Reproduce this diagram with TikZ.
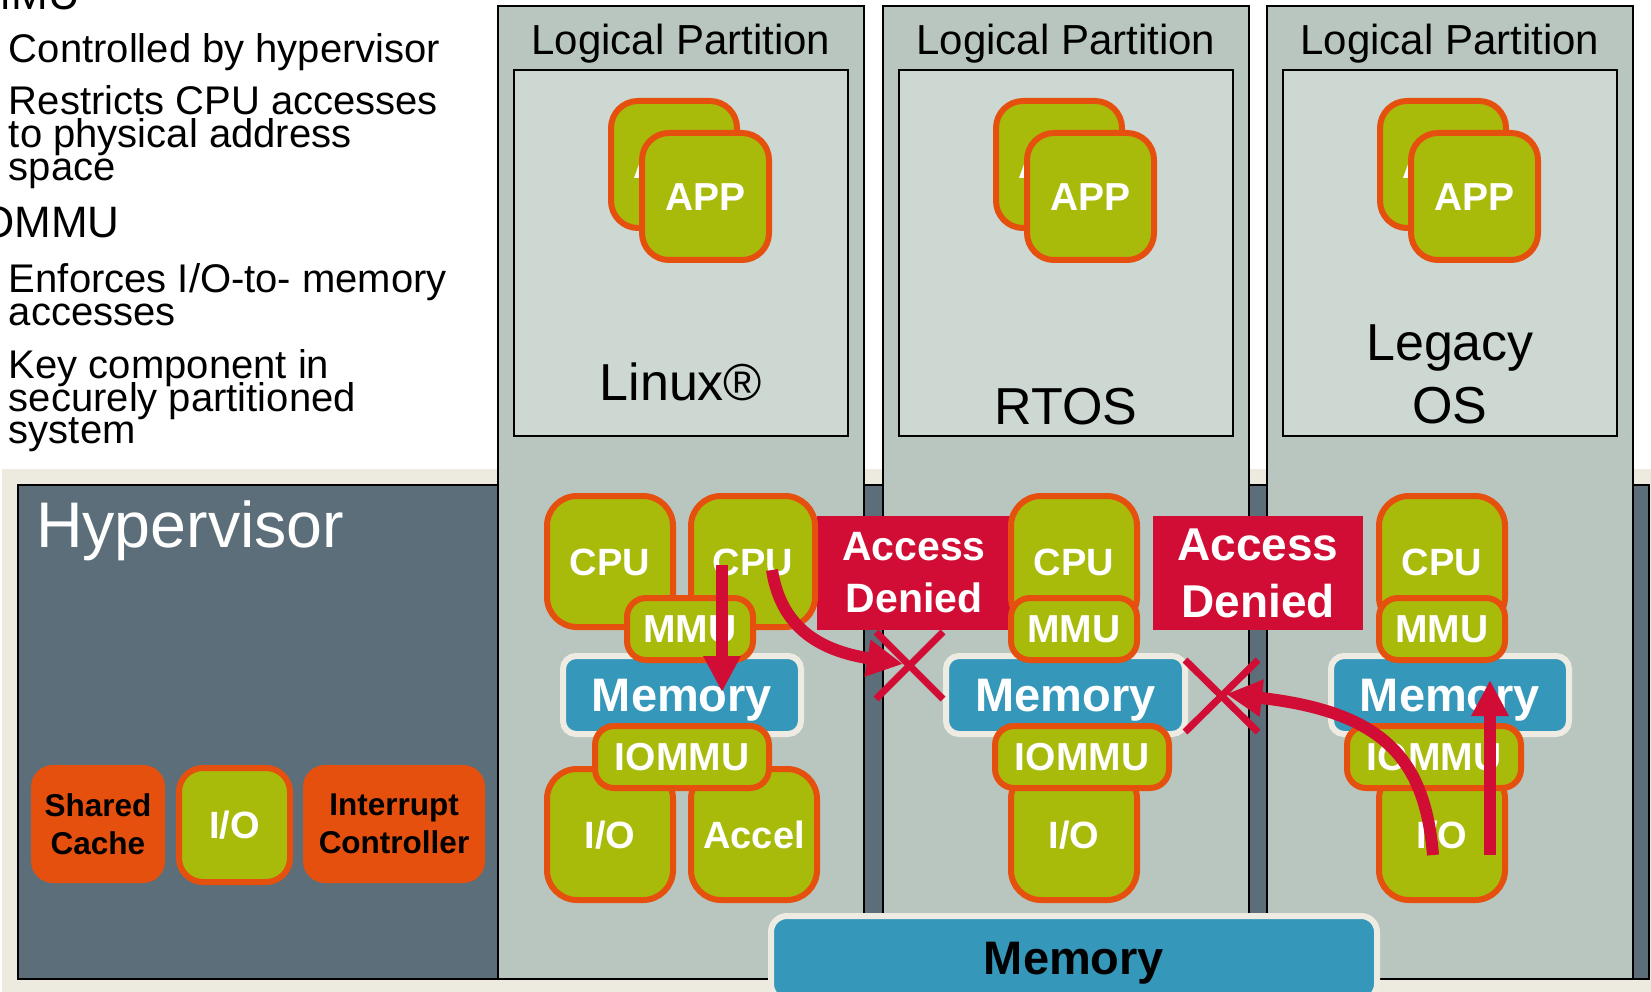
\documentclass[tikz,border=0pt]{standalone}
\usepackage{fontspec}
\setmainfont{Liberation Sans}
\usetikzlibrary{arrows.meta,calc}

\definecolor{lime}{HTML}{A8BB0B}
\definecolor{rust}{HTML}{E5500E}
\definecolor{sky}{HTML}{3597BA}
\definecolor{crim}{HTML}{D10D35}
\definecolor{linen}{HTML}{EDEBE0}
\definecolor{memrim}{HTML}{EEECE2}
\definecolor{slate}{HTML}{5C6E7A}
\definecolor{sage}{HTML}{B9C6BF}
\definecolor{mist}{HTML}{CED8D3}

% box from its outer corners: name, style, border width, x1, y1, x2, y2, text
\newcommand\blk[8]{\node[#2, minimum width={((#6)-(#4)-(#3))*1pt}, minimum height={((#7)-(#5)-(#3))*1pt}] (#1) at ({((#4)+(#6))/2},{((#5)+(#7))/2}) {#8};}

\tikzset{
  plain/.style={inner sep=0pt, outer sep=0pt},
  hvbox/.style={plain, draw=black, line width=2pt, fill=slate},
  part/.style={plain, draw=black, line width=2pt, fill=sage},
  osbox/.style={plain, draw=black, line width=2pt, fill=mist},
  chip/.style={plain, draw=rust, line width=6pt, fill=lime, text=white},
  mem/.style={plain, draw=memrim, line width=6pt, fill=sky, text=white, rounded corners=13pt},
  ora/.style={plain, fill=rust, rounded corners=22pt, text=black, align=center,
    font=\bfseries\fontsize{31.5}{38}\selectfont},
  deny/.style={plain, fill=crim, text=white, align=center},
  lbl38/.style={font=\bfseries\fontsize{38}{38}\selectfont, text height=27.2pt, text depth=0pt},
  lbl39/.style={font=\bfseries\fontsize{39}{39}\selectfont, text height=27.9pt, text depth=0pt},
  lbl47/.style={font=\bfseries\fontsize{47}{47}\selectfont, text height=33.7pt, text depth=0pt},
  title/.style={plain, font=\fontsize{42}{42}\selectfont},
  oslbl/.style={plain, font=\fontsize{52}{52}\selectfont},
  item/.style={plain, font=\fontsize{40}{33}\selectfont, anchor=base west},
  head/.style={plain, font=\fontsize{44}{44}\selectfont, anchor=base west},
  arw/.style={draw=crim, line width=12pt, -{Triangle[length=36pt,width=35pt]}},
  xmark/.style={draw=crim, line width=7pt},
}

\begin{document}
\begin{tikzpicture}[x=1pt,y=-1pt]
\useasboundingbox (0,0) rectangle (1651,992);
\fill[white] (0,0) rectangle (1651,992);
\fill[linen] (2,469) rectangle (1651,992);

% bullet list
\node[head] (hmmu) at (-25,10) {MMU};
\node[item] (l1) at (9,63) {Controlled by hypervisor};
\node[item] (l2) at (9,115) {Restricts CPU accesses};
\node[item] (l3) at (9,148) {to physical address};
\node[item] (l4) at (9,181) {space};
\node[head] (hiommu) at (-32,238) {IOMMU};
\node[item] (l5) at (9,292) {Enforces I/O-to- memory};
\node[item] (l6) at (9,325) {accesses};
\node[item] (l7) at (9,378) {Key component in};
\node[item] (l8) at (9,411) {securely partitioned};
\node[item] (l9) at (9,443) {system};

% hypervisor layer
\blk{hv}{hvbox}{2}{17}{484}{1650}{980}{}
\node[plain, font=\fontsize{64.5}{64.5}\selectfont, text=white, anchor=base west] (hvt) at (36,547) {Hypervisor};
\blk{sc}{ora}{0}{31}{765}{165}{883}{Shared\\Cache}
\blk{hio}{chip, rounded corners=24pt, lbl38}{6}{176}{765}{293}{885}{I/O}
\blk{ic}{ora}{0}{303}{765}{485}{883}{Interrupt\\Controller}

% logical partitions
\foreach \L/\n in {497/1,882/2,1266/3}{
  \blk{p\n}{part}{2}{\L}{5}{\L+368}{980}{}
  \blk{os\n}{osbox}{2}{\L+16}{69}{\L+352}{437}{}
  \node[title, anchor=base] (lp\n) at (\L+184,55) {Logical Partition};
  \blk{appb\n}{chip, rounded corners=27pt, lbl39}{6}{\L+111}{98}{\L+243}{231}{APP}
  \blk{appf\n}{chip, rounded corners=27pt, lbl39}{6}{\L+142}{130}{\L+275}{263}{APP}
}
\node[oslbl, anchor=base] (linux) at (681,400) {Linux®};
\node[oslbl, anchor=base] (rtos) at (1066,424) {RTOS};
\node[oslbl, anchor=base] (leg) at (1450,360) {Legacy};
\node[oslbl, anchor=base] (legos) at (1450,423) {OS};

% access denied banners
\blk{ad1}{deny, font=\bfseries\fontsize{41}{52}\selectfont}{0}{817}{516}{1011}{630}{Access\\Denied}
\blk{ad2}{deny, font=\bfseries\fontsize{46}{57}\selectfont}{0}{1153}{516}{1363}{630}{Access\\Denied}

% partition 1 hardware
\blk{cpu1a}{chip, rounded corners=30pt, lbl38}{6}{544}{493}{676}{630}{CPU}
\blk{cpu1b}{chip, rounded corners=30pt, lbl38}{6}{688}{493}{818}{630}{CPU}
\blk{mem1}{mem, lbl47}{6}{560}{653}{804}{737}{Memory}
\blk{mmu1}{chip, rounded corners=19pt, lbl39}{6}{624}{595}{756}{663}{MMU}
\blk{io1}{chip, rounded corners=30pt, lbl38}{6}{544}{766}{676}{903}{I/O}
\blk{acc1}{chip, rounded corners=30pt, lbl38}{6}{688}{766}{820}{903}{Accel}
\blk{iommu1}{chip, rounded corners=19pt, lbl39}{6}{592}{723}{772}{791}{IOMMU}

% partition 2 hardware
\blk{cpu2}{chip, rounded corners=30pt, lbl38}{6}{1008}{493}{1140}{630}{CPU}
\blk{mem2}{mem, lbl47}{6}{943}{653}{1188}{737}{Memory}
\blk{mmu2}{chip, rounded corners=19pt, lbl39}{6}{1008}{595}{1140}{663}{MMU}
\blk{io2}{chip, rounded corners=30pt, lbl38}{6}{1008}{766}{1140}{903}{I/O}
\blk{iommu2}{chip, rounded corners=19pt, lbl39}{6}{992}{723}{1172}{791}{IOMMU}

% partition 3 hardware
\blk{cpu3}{chip, rounded corners=30pt, lbl38}{6}{1376}{493}{1508}{630}{CPU}
\blk{mem3}{mem, lbl47}{6}{1328}{653}{1572}{737}{Memory}
\blk{mmu3}{chip, rounded corners=19pt, lbl39}{6}{1376}{595}{1508}{663}{MMU}
\blk{io3}{chip, rounded corners=30pt, lbl38}{6}{1376}{766}{1508}{903}{I/O}
\blk{iommu3}{chip, rounded corners=19pt, lbl39}{6}{1344}{723}{1524}{791}{IOMMU}

% shared main memory
\blk{mainmem}{mem, rounded corners=16pt, text=black, lbl47}{6}{768}{913}{1380}{1003}{Memory}

% blocked paths
\coordinate (x1) at (910,665);
\coordinate (x2) at (1222,696);
\draw[xmark] ($(x1)+(-34,-33)$) -- ($(x1)+(33,34)$);
\draw[xmark] ($(x1)+(33,-33)$) -- ($(x1)+(-34,34)$);
\draw[xmark] ($(x2)+(-37,-36)$) -- ($(x2)+(36,36)$);
\draw[xmark] ($(x2)+(36,-36)$) -- ($(x2)+(-37,36)$);

% memory accesses
\coordinate (s1) at (722,565);
\coordinate (e1) at (722,692);
\coordinate (s2) at (772,570);
\coordinate (e2) at (903,664);
\coordinate (s3) at (1433,855);
\coordinate (e3) at (1226,694);
\coordinate (s4) at (1490,855);
\coordinate (e4) at (1490,680);
\draw[arw] (s1) -- (e1);
\draw[arw] (s2) .. controls (782,635) and (830,652) .. (e2);
\draw[arw] (s3) .. controls (1425,760) and (1385,712) .. (e3);
\draw[arw] (s4) -- (e4);
\end{tikzpicture}
\end{document}
